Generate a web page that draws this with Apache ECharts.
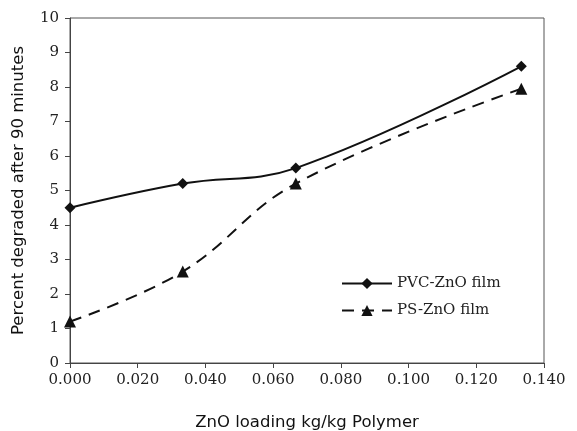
<!DOCTYPE html>
<html><head><meta charset="utf-8">
<script src="https://cdn.jsdelivr.net/npm/echarts@6/dist/echarts.min.js"></script>
<style>html,body{margin:0;padding:0;background:#fff}#c{width:577px;height:431px}</style>
</head><body><div id="c"></div>
<script>
const xLoading = [0.000, 0.0333, 0.0667, 0.1333];
const pvcValues = [4.5, 5.2, 5.65, 8.6];
const psValues = [1.2, 2.65, 5.2, 7.95];
const seriesNames = ['PVC-ZnO film', 'PS-ZnO film'];
const xTitle = 'ZnO loading kg/kg Polymer';
const yTitle = 'Percent degraded after 90 minutes';

const chart = echarts.init(document.getElementById('c'), null, {renderer: 'canvas'});
const serif = '"DejaVu Serif", "Liberation Serif", serif';
const sans = '"DejaVu Sans", "Liberation Sans", sans-serif';
chart.setOption({
  animation: false,
  backgroundColor: '#fff',
  grid: {left: 70, right: 33, top: 18, bottom: 68, show: true, borderColor: '#555', borderWidth: 1,
         containLabel: false, outerBoundsMode: 'none'},
  legend: {
    left: 336, top: 271, orient: 'vertical', itemGap: 12, itemWidth: 50, itemHeight: 14,
    textStyle: {fontFamily: serif, fontSize: 15, color: '#222'},
    data: seriesNames
  },
  xAxis: {
    type: 'value', min: 0, max: 0.14, interval: 0.02,
    name: xTitle, nameLocation: 'middle', nameGap: 51,
    nameTextStyle: {fontFamily: sans, fontSize: 16.5, color: '#111'},
    axisLine: {lineStyle: {color: '#444', width: 1}},
    axisTick: {show: true, inside: false, length: 5, lineStyle: {color: '#444'}},
    axisLabel: {fontFamily: serif, fontSize: 15, color: '#222', margin: 10, formatter: v => v.toFixed(3)},
    splitLine: {show: false}
  },
  yAxis: {
    type: 'value', min: 0, max: 10, interval: 1,
    name: yTitle, nameLocation: 'middle', nameGap: 43, nameRotate: 90,
    nameTextStyle: {fontFamily: sans, fontSize: 16.5, color: '#111'},
    axisLine: {show: true, lineStyle: {color: '#444', width: 1}},
    axisTick: {show: true, length: 5, lineStyle: {color: '#444'}},
    axisLabel: {fontFamily: serif, fontSize: 15, color: '#222', margin: 11},
    splitLine: {show: false}
  },
  series: [
    {
      name: seriesNames[0], type: 'line', smooth: 0.4,
      data: xLoading.map((x, i) => [x, pvcValues[i]]),
      symbol: 'diamond', symbolSize: 11,
      lineStyle: {color: '#111', width: 2},
      itemStyle: {color: '#111'}
    },
    {
      name: seriesNames[1], type: 'line', smooth: 0.4,
      data: xLoading.map((x, i) => [x, psValues[i]]),
      symbol: 'triangle', symbolSize: 12,
      lineStyle: {color: '#111', width: 2, type: [12, 8]},
      itemStyle: {color: '#111'}
    }
  ]
});
</script></body></html>
